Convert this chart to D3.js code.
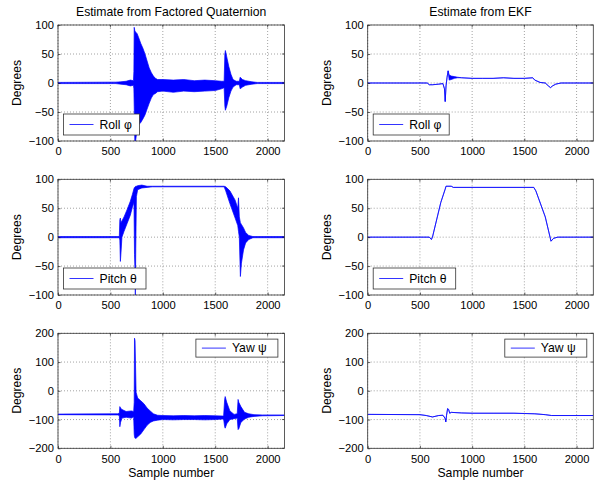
<!DOCTYPE html>
<html>
<head>
<meta charset="utf-8">
<script src="https://cdn.jsdelivr.net/npm/d3@7"></script>
<style>
  body { margin: 0; background: #fff; }
  text { font-family: "Liberation Sans", Arial, sans-serif; fill: #000; }
</style>
</head>
<body>
<svg id="main-svg"></svg>
<script>
// rows are [sample, low, high] : low == high where the trace is a single line
const rollFQ = [
  [0, -1, 1], [550, -1, 1.5], [600, -2, 2], [650, -3, 3], [690, -5, 5], [720, -4, 4],
  [724, -10, 20], [727, -40, 96], [733, -100, 90], [740, -100, 88], [755, -80, 85],
  [770, -72, 78], [790, -68, 68], [810, -62, 60], [830, -55, 50], [850, -45, 38],
  [870, -35, 26], [890, -26, 18], [910, -20, 12], [930, -18, 8], [950, -15, 6],
  [1000, -14, 6], [1100, -16, 5], [1200, -14, 6], [1300, -15, 4], [1400, -14, 5],
  [1500, -13, 4], [1560, -10, 3], [1585, -8, 3], [1592, -40, 50], [1597, -47, 56],
  [1610, -40, 45], [1630, -25, 28], [1650, -14, 15], [1670, -7, 6], [1700, -3, 3],
  [1730, -3, 3], [1738, -10, 10], [1760, -7, 6], [1790, -4, 4], [1850, -2, 2],
  [1900, -1, 1], [2160, -1, 1]
];
const pitchFQ = [
  [0, -1, 1], [585, -1, 1], [590, -5, 30], [595, -42, 33], [600, -30, 25], [610, 0, 28],
  [630, 10, 35], [660, 24, 48], [690, 38, 62], [710, 52, 74], [725, 60, 84],
  [730, -30, 86], [735, -60, 87], [738, -100, 87], [742, -20, 88], [748, 70, 88],
  [760, 82, 89], [800, 85, 90], [850, 86, 88], [900, 87, 88], [1585, 87, 88],
  [1600, 80, 87], [1640, 58, 80], [1690, 33, 64], [1715, 20, 50], [1722, 10, 68],
  [1730, 0, 35], [1740, -68, 25], [1750, -45, 22], [1770, -22, 16], [1790, -10, 8],
  [1820, -4, 3], [1860, -1, 1], [2160, -1, 1]
];
const yawFQ = [
  [0, -83, -81], [570, -84, -80], [585, -86, -78], [590, -125, -55], [597, -110, -60],
  [610, -95, -65], [650, -92, -72], [700, -95, -70], [722, -90, -72], [727, -150, -40],
  [730, -160, 183], [735, -165, 175], [745, -165, -5], [760, -160, -25], [790, -150, -35],
  [820, -135, -45], [850, -120, -60], [880, -110, -70], [910, -105, -80], [950, -102, -85],
  [1000, -100, -86], [1100, -101, -87], [1200, -100, -86], [1300, -100, -87],
  [1400, -101, -86], [1500, -100, -87], [1580, -98, -88], [1590, -125, -30],
  [1595, -130, -20], [1610, -115, -40], [1640, -100, -70], [1680, -97, -82],
  [1710, -95, -80], [1718, -135, -30], [1725, -132, -40], [1745, -110, -55],
  [1780, -98, -75], [1820, -92, -80], [1870, -89, -83], [1950, -87, -84], [2160, -86, -84]
];
const rollEKF = [
  [0, 0, 0], [570, 0, 0], [590, -3, -3], [620, -3, -3], [680, -2, -2], [720, -1, -1],
  [735, -10, -10], [742, -32, -32], [750, -5, -5], [760, 10, 10], [770, 21, 21],
  [780, 5, 14], [800, 6, 12], [830, 8, 11], [860, 9, 10], [900, 9, 9], [1000, 8, 8],
  [1100, 8, 8], [1200, 8, 8], [1300, 9, 9], [1400, 8, 8], [1500, 8, 8], [1580, 9, 9],
  [1600, 5, 5], [1650, 1, 1], [1700, 0, 0], [1730, -5, -5], [1750, -8, -8],
  [1770, -5, -5], [1800, -2, -2], [1850, 0, 0], [2160, 0, 0]
];
const pitchEKF = [
  [0, 0, 0], [590, 0, 0], [610, -4, -4], [620, 0, 0], [700, 60, 60], [740, 82, 82],
  [745, 84, 86], [750, 88, 88], [800, 88, 88], [820, 86, 86], [1590, 86, 86],
  [1610, 80, 80], [1700, 35, 35], [1755, -7, -7], [1780, -2, -2], [1820, 0, 0],
  [2160, 0, 0]
];
const yawEKF = [
  [0, -82, -82], [500, -83, -83], [560, -86, -86], [620, -91, -91], [680, -86, -86],
  [720, -85, -85], [740, -95, -95], [748, -108, -108], [755, -85, -85], [765, -62, -62],
  [775, -65, -65], [785, -78, -78], [800, -75, -75], [900, -77, -77], [1000, -78, -78],
  [1200, -78, -78], [1400, -78, -78], [1500, -79, -79], [1600, -80, -80],
  [1700, -83, -83], [1760, -86, -86], [2160, -86, -86]
];

const X_DOMAIN = [0, 2160];
const X_TICKS = [0, 500, 1000, 1500, 2000];
const ANGLE_TICKS = [-100, -50, 0, 50, 100];
const YAW_TICKS = [-200, -100, 0, 100, 200];
const COLUMN_TITLES = ["Estimate from Factored Quaternion", "Estimate from EKF"];
const LEGEND_LABELS = ["Roll \u03c6", "Pitch \u03b8", "Yaw \u03c8"];

// LAYOUT
const WIDTH = 602;
const HEIGHT = 485;
const COLUMNS_X = [[58, 284.4], [367.7, 593.3]];
const ROWS_Y = [[25, 141], [179.3, 295], [333.3, 448.3]];
const TICK_FONT = 11.2;
const LABEL_FONT = 12.2;
const LINE_COLOR = "#0000ff";
const GRID_COLOR = "#8c8c8c";

const panels = [
  { col: 0, row: 0, data: rollFQ, ticks: ANGLE_TICKS, legend: 0 },
  { col: 0, row: 1, data: pitchFQ, ticks: ANGLE_TICKS, legend: 1 },
  { col: 0, row: 2, data: yawFQ, ticks: YAW_TICKS, legend: 2 },
  { col: 1, row: 0, data: rollEKF, ticks: ANGLE_TICKS, legend: 0 },
  { col: 1, row: 1, data: pitchEKF, ticks: ANGLE_TICKS, legend: 1 },
  { col: 1, row: 2, data: yawEKF, ticks: YAW_TICKS, legend: 2 }
];

const svg = d3.select("#main-svg").attr("width", WIDTH).attr("height", HEIGHT);
svg.append("rect").attr("width", WIDTH).attr("height", HEIGHT).attr("fill", "#fff");

panels.forEach((p, i) => {
  const [x0, x1] = COLUMNS_X[p.col];
  const [y0, y1] = ROWS_Y[p.row];
  const x = d3.scaleLinear().domain(X_DOMAIN).range([x0, x1]);
  const y = d3.scaleLinear().domain([p.ticks[0], p.ticks[p.ticks.length - 1]]).range([y1, y0]);
  const g = svg.append("g");

  // grid
  g.selectAll(".gx").data(X_TICKS).join("line")
    .attr("x1", d => x(d)).attr("x2", d => x(d)).attr("y1", y0).attr("y2", y1)
    .attr("stroke", GRID_COLOR).attr("stroke-width", 0.8).attr("stroke-dasharray", "1,2");
  g.selectAll(".gy").data(p.ticks).join("line")
    .attr("x1", x0).attr("x2", x1).attr("y1", d => y(d)).attr("y2", d => y(d))
    .attr("stroke", GRID_COLOR).attr("stroke-width", 0.8).attr("stroke-dasharray", "1,2");

  // data
  const clipId = "clip" + i;
  g.append("clipPath").attr("id", clipId).append("rect")
    .attr("x", x0).attr("y", y0).attr("width", x1 - x0).attr("height", y1 - y0);
  const area = d3.area().x(d => x(d[0])).y0(d => y(d[1])).y1(d => y(d[2]));
  g.append("path").datum(p.data)
    .attr("clip-path", `url(#${clipId})`)
    .attr("d", area)
    .attr("fill", LINE_COLOR).attr("stroke", LINE_COLOR)
    .attr("stroke-width", 0.7).attr("stroke-linejoin", "round");

  // axes box with inward ticks
  g.append("g").attr("transform", `translate(0,${y1})`)
    .call(d3.axisBottom(x).tickValues(X_TICKS).tickFormat(d3.format("d")).tickSize(-2.5).tickPadding(6.5))
    .call(a => a.select(".domain").remove());
  g.append("g").attr("transform", `translate(${x0},0)`)
    .call(d3.axisLeft(y).tickValues(p.ticks).tickFormat(d3.format("d")).tickSize(-2.5).tickPadding(4))
    .call(a => a.select(".domain").remove());
  g.selectAll(".tick text").attr("font-size", TICK_FONT)
    .attr("font-family", "Liberation Sans, Arial, sans-serif").attr("fill", "#000");
  g.selectAll(".tick line").attr("stroke", "#000").attr("stroke-width", 0.6);
  const topTicks = g.append("g");
  topTicks.selectAll("line.t").data(X_TICKS).join("line")
    .attr("x1", d => x(d)).attr("x2", d => x(d)).attr("y1", y0).attr("y2", y0 + 2.5)
    .attr("stroke", "#000").attr("stroke-width", 0.6);
  topTicks.selectAll("line.r").data(p.ticks).join("line")
    .attr("x1", x1).attr("x2", x1 - 2.5).attr("y1", d => y(d)).attr("y2", d => y(d))
    .attr("stroke", "#000").attr("stroke-width", 0.6);
  g.append("rect").attr("x", x0).attr("y", y0).attr("width", x1 - x0).attr("height", y1 - y0)
    .attr("fill", "none").attr("stroke", "#333").attr("stroke-width", 0.8);

  // legend
  const label = LEGEND_LABELS[p.legend];
  const lw = p.legend === 0 ? 76 : p.legend === 1 ? 82.5 : 82;
  const lh = p.legend === 2 ? 18 : 21;
  const lx = p.legend === 2 ? x1 - 6.5 - lw : x0 + 5.5;
  const ly = p.legend === 2 ? y0 + 5.8 : y1 - 6 - lh;
  const lg = g.append("g").attr("transform", `translate(${lx},${ly})`);
  lg.append("rect").attr("width", lw).attr("height", lh)
    .attr("fill", "#fff").attr("stroke", "#333").attr("stroke-width", 0.8);
  lg.append("line").attr("x1", 6).attr("x2", 30).attr("y1", lh / 2).attr("y2", lh / 2)
    .attr("stroke", LINE_COLOR).attr("stroke-width", 0.8);
  lg.append("text").attr("x", 36).attr("y", lh / 2 + 4.3).attr("font-size", LABEL_FONT).text(label);

  // labels
  svg.append("text").attr("transform", `translate(${x0 - 37},${(y0 + y1) / 2}) rotate(-90)`)
    .attr("text-anchor", "middle").attr("font-size", LABEL_FONT).text("Degrees");
  if (p.row === 0) {
    svg.append("text").attr("x", (x0 + x1) / 2).attr("y", y0 - 9)
      .attr("text-anchor", "middle").attr("font-size", LABEL_FONT).text(COLUMN_TITLES[p.col]);
  }
  if (p.row === 2) {
    svg.append("text").attr("x", (x0 + x1) / 2).attr("y", y1 + 29)
      .attr("text-anchor", "middle").attr("font-size", LABEL_FONT).text("Sample number");
  }
});
</script>
</body>
</html>
